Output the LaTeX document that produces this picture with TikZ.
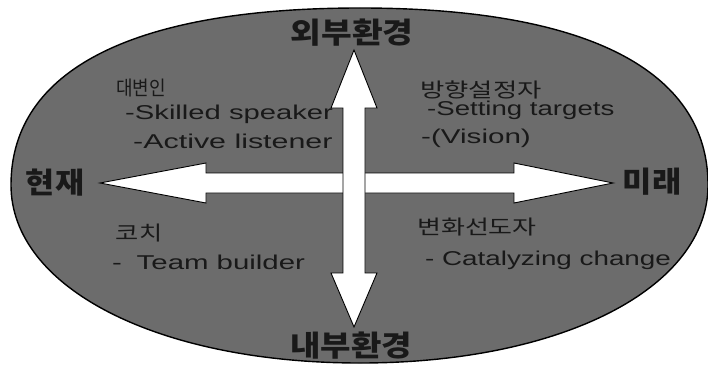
\documentclass[tikz,border=0pt]{standalone}
\usepackage{fontspec}
\setmainfont{Liberation Sans}
\newfontfamily\krfont{Noto Sans CJK KR}
\usepackage{graphicx}
\definecolor{ellfill}{RGB}{108,108,108}
\definecolor{txt}{RGB}{25,25,25}
\newcommand\wx[2]{\scalebox{#1}[1]{#2}}
\tikzset{
  bigkr/.style={font=\krfont\bfseries\fontsize{29}{29}\selectfont, text=txt, inner sep=0pt},
  smallkr/.style={font=\krfont\fontsize{20}{20}\selectfont, text=txt, inner sep=0pt},
  eng/.style={font=\fontsize{20}{20}\selectfont, text=txt, inner sep=0pt, anchor=west},
  arrowshape/.style={draw=black, fill=white, line width=0.9pt, line join=miter},
  ellshape/.style={draw=black, fill=ellfill, line width=1.4pt},
}
\begin{document}
\begin{tikzpicture}[x=1pt,y=-1pt]
\useasboundingbox[fill=white] (0,0) rectangle (708,369);
% ellipse
\path[ellshape] (11,185) .. controls (11,70) and (133,8) .. (360,8)
  .. controls (586,8) and (708,70) .. (708,185)
  .. controls (708,288) and (562,363) .. (360,363)
  .. controls (158,363) and (11,288) .. cycle;
% horizontal double arrow
\path[arrowshape] (100,183) -- (206,163) -- (206,173) -- (514,173) -- (514,163)
  -- (613,183) -- (514,203) -- (514,193) -- (206,193) -- (206,203) -- cycle;
% vertical double arrow
\path[arrowshape] (354,50) -- (377,108) -- (365,108) -- (365,273) -- (377,273)
  -- (354,327) -- (331,273) -- (343,273) -- (343,108) -- (331,108) -- cycle;
% axis labels
\node[bigkr] (ext) at (352,33) {\wx{1.15}{외부환경}};
\node[bigkr] (int) at (351,346) {\wx{1.14}{내부환경}};
\node[bigkr] (now) at (55,183) {\wx{1.09}{현재}};
\node[bigkr] (fut) at (652,182) {\wx{1.1}{미래}};
% quadrant titles
\node[smallkr] (spk) at (141,88) {\wx{0.9}{대변인}};
\node[smallkr] (dir) at (481,90) {\wx{1.32}{방향설정자}};
\node[smallkr] (cch) at (139,233) {\wx{1.26}{코치}};
\node[smallkr] (chg) at (477,227) {\wx{1.3}{변화선도자}};
% quadrant details
\node[eng] (spk1) at (125,114) {\wx{1.46}{-Skilled speaker}};
\node[eng] (spk2) at (133,141) {\wx{1.52}{-Active listener}};
\node[eng] (dir1) at (427,110) {\wx{1.38}{-Setting targets}};
\node[eng] (dir2) at (421,138) {\wx{1.48}{-(Vision)}};
\node[eng] (cch1) at (112,262) {\wx{1.47}{-\hspace{0.5em}Team builder}};
\node[eng] (chg1) at (425,260) {\wx{1.39}{- Catalyzing change}};
\end{tikzpicture}
\end{document}
